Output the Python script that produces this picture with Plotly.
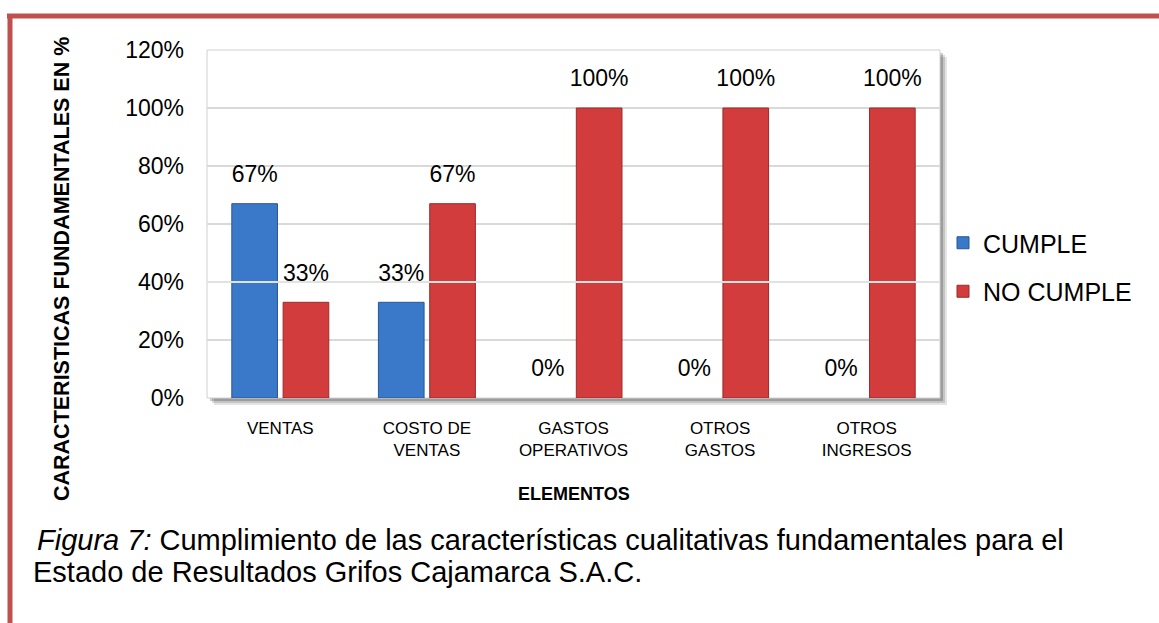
import plotly.graph_objects as go

# data
categorias = ["VENTAS", "COSTO DE<br>VENTAS", "GASTOS<br>OPERATIVOS", "OTROS<br>GASTOS", "OTROS<br>INGRESOS"]
cumple = [0.67, 0.33, 0.0, 0.0, 0.0]
no_cumple = [0.33, 0.67, 1.0, 1.0, 1.0]
y_ticks = [0, 0.2, 0.4, 0.6, 0.8, 1.0, 1.2]

W, H = 1159, 623
L, R, T, B = 207, 219, 50, 225
PW, PH = W - L - R, H - T - B

SANS = "Liberation Sans, Arial, sans-serif"


def px_x(p):
    """pixel column -> paper x"""
    return (p - L) / PW


def px_y(p):
    """pixel row -> paper y"""
    return (H - B - p) / PH


series = [
    ("CUMPLE", cumple, "a", "#3A78C9", "#2A5794"),
    ("NO CUMPLE", no_cumple, "b", "#D23C3C", "#9C2A2A"),
]

fig = go.Figure()
for name, vals, grp, fill, edge in series:
    fig.add_trace(go.Bar(
        x=categorias, y=vals, name=name, legendgroup=grp,
        # no outline on the empty (0%) bars
        marker=dict(color=fill, line=dict(color=edge, width=[1 if v > 0 else 0 for v in vals])),
        hovertemplate="%{y:.0%}<extra>" + name + "</extra>",
    ))
# value labels, grouped like the bars, lifted a bit with an invisible marker
for name, vals, grp, fill, edge in series:
    fig.add_trace(go.Scatter(
        x=categorias, y=vals, mode="markers+text", showlegend=False,
        marker=dict(size=24, opacity=0),
        texttemplate="%{y:.0%}", textposition="top center",
        textfont=dict(family=SANS, size=23, color="#000000"),
        hoverinfo="skip", cliponaxis=False,
    ))

shapes = []
# drop shadow + white plot background
for i, op in enumerate([0.10, 0.14, 0.20]):
    off = 7 - 2 * i
    shapes.append(dict(type="rect", xref="paper", yref="paper", layer="below",
                       x0=px_x(L + off), x1=px_x(L + PW + off),
                       y0=px_y(T + PH + off), y1=px_y(T + off),
                       line=dict(width=0), fillcolor=f"rgba(0,0,0,{op})"))
shapes.append(dict(type="rect", xref="paper", yref="paper", layer="below",
                   x0=0, x1=1, y0=0, y1=1,
                   line=dict(width=1, color="#D0D0D0"), fillcolor="#FFFFFF"))
# the 40% gridline shows through the bars in the scan
shapes.append(dict(type="line", xref="paper", yref="y", layer="above",
                   x0=0, x1=1, y0=0.4, y1=0.4,
                   line=dict(color="#E2E2E2", width=2)))
# red frame of the page
shapes.append(dict(type="line", xref="paper", yref="paper",
                   x0=px_x(7), x1=px_x(W + 5), y0=px_y(16), y1=px_y(16),
                   line=dict(color="#C0504D", width=5)))
shapes.append(dict(type="line", xref="paper", yref="paper",
                   x0=px_x(10), x1=px_x(10), y0=px_y(14), y1=px_y(H + 5),
                   line=dict(color="#C0504D", width=5)))

annotations = [
    dict(text="<b>CARACTERISTICAS FUNDAMENTALES EN %</b>", textangle=-90,
         xref="paper", yref="paper", x=px_x(62), y=px_y(269),
         xanchor="center", yanchor="middle",
         showarrow=False, font=dict(family=SANS, size=21.5, color="#000000")),
    dict(text="<b>ELEMENTOS</b>",
         xref="paper", yref="paper", x=0.5, y=px_y(494),
         xanchor="center", yanchor="middle",
         showarrow=False, font=dict(family=SANS, size=18, color="#000000")),
    dict(text="<i>Figura 7:</i> Cumplimiento de las características cualitativas fundamentales para el",
         xref="paper", yref="paper", x=px_x(35), y=px_y(522),
         xanchor="left", yanchor="top", align="left",
         showarrow=False, font=dict(family=SANS, size=29, color="#000000")),
    dict(text="Estado de Resultados Grifos Cajamarca S.A.C.",
         xref="paper", yref="paper", x=px_x(31), y=px_y(554),
         xanchor="left", yanchor="top", align="left",
         showarrow=False, font=dict(family=SANS, size=29, color="#000000")),
]

fig.update_layout(
    width=W, height=H,
    margin=dict(l=L, r=R, t=T, b=B),
    paper_bgcolor="#FFFFFF",
    plot_bgcolor="rgba(0,0,0,0)",
    barmode="group", bargap=0.30, bargroupgap=0.11,
    scattermode="group", scattergap=0.30,
    shapes=shapes, annotations=annotations,
    showlegend=True,
    legend=dict(x=px_x(943), y=px_y(267), xanchor="left", yanchor="middle",
                tracegroupgap=13, bgcolor="rgba(0,0,0,0)",
                font=dict(family=SANS, size=25, color="#000000")),
    xaxis=dict(showgrid=False, showline=False, ticks="",
               tickfont=dict(family=SANS, size=17, color="#000000"),
               ticklabelstandoff=18),
    yaxis=dict(range=[0, 1.2], tickvals=y_ticks, tickformat=".0%",
               showgrid=True, gridcolor="#D9D9D9", gridwidth=1.5,
               zeroline=False, showline=False, ticks="",
               tickfont=dict(family=SANS, size=23, color="#000000"),
               ticklabelstandoff=22),
)

fig.write_html("out.html", config={"displayModeBar": False},
               post_script="document.body.style.margin='0';")
